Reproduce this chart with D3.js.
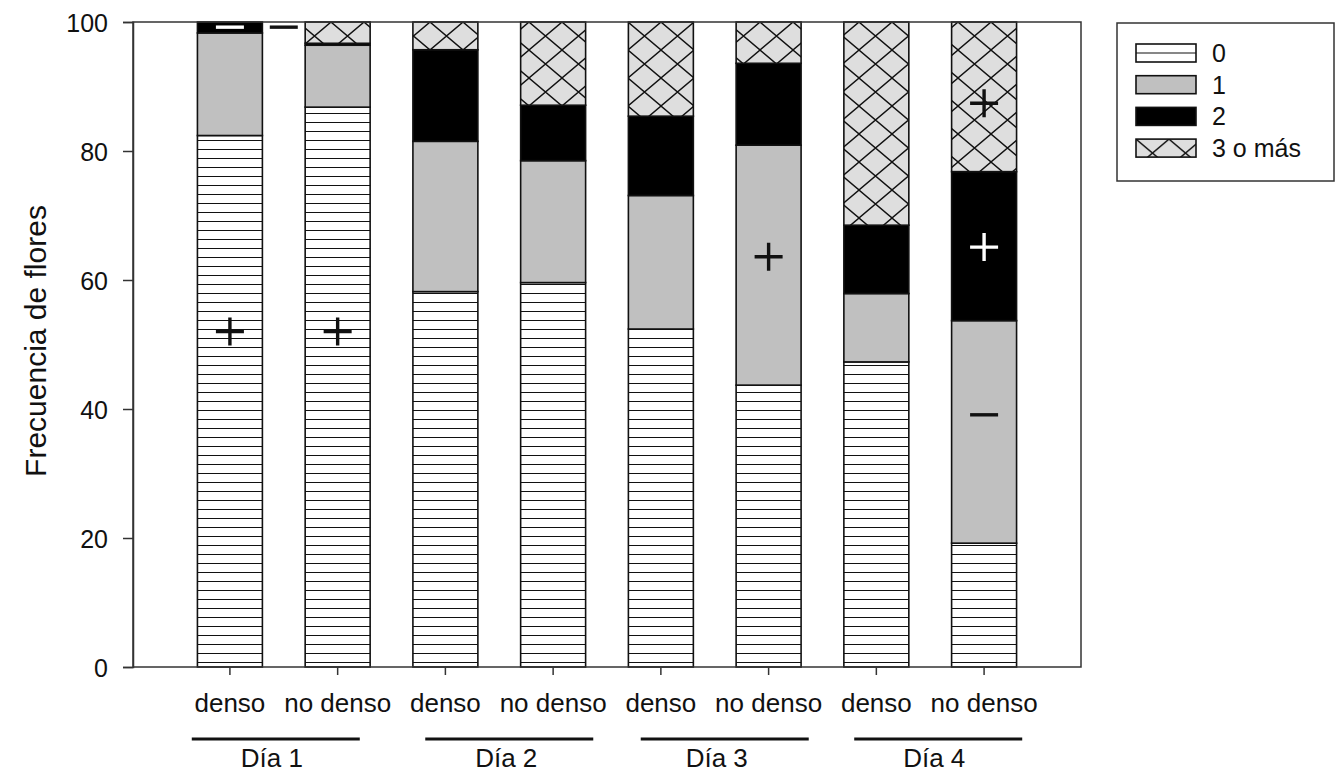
<!DOCTYPE html>
<html>
<head>
<meta charset="utf-8">
<script src="https://cdn.jsdelivr.net/npm/d3@7"></script>
<style>
  body { margin: 0; background: #fff; }
  text { font-family: "Liberation Sans", Arial, sans-serif; fill: #111; }
</style>
</head>
<body>
<svg width="1343" height="772"></svg>
<script>
// categories and data (percent of flowers per number of visits)
var days = ["Día 1", "Día 2", "Día 3", "Día 4"];
var treatments = ["denso", "no denso"];
var keys = ["0", "1", "2", "3 o más"];
var cero  = [82.4, 86.8, 58.2, 59.6, 52.4, 43.7, 47.3, 19.2];
var uno   = [15.9,  9.6, 23.3, 18.9, 20.7, 37.2, 10.6, 34.5];
var dos   = [ 1.7,  0.3, 14.2,  8.6, 12.3, 12.7, 10.6, 23.1];
var tres  = [ 0.0,  3.3,  4.3, 12.9, 14.6,  6.4, 31.5, 23.2];
var yTicks = [0, 20, 40, 60, 80, 100];

// significance marks: bar index, value, sign, colour
var marks = [
  {bar: 0, value: 52.0, sign: "+", color: "#111"},
  {bar: 0, value: 99.2, sign: "-", color: "#fff"},
  {bar: 0.5, value: 99.2, sign: "-", color: "#111"},
  {bar: 1, value: 52.0, sign: "+", color: "#111"},
  {bar: 5, value: 63.6, sign: "+", color: "#111"},
  {bar: 7, value: 87.4, sign: "+", color: "#111"},
  {bar: 7, value: 65.1, sign: "+", color: "#fff"},
  {bar: 7, value: 39.1, sign: "-", color: "#111"}
];

var cats = [];
days.forEach(function(d) { treatments.forEach(function(t) { cats.push(d + "|" + t); }); });
var rows = cats.map(function(c, i) {
  return {cat: c, "0": cero[i], "1": uno[i], "2": dos[i], "3 o más": tres[i]};
});

var svg = d3.select("svg"),
    margin = {top: 22, right: 262, bottom: 105, left: 133},
    width = +svg.attr("width") - margin.left - margin.right,
    height = +svg.attr("height") - margin.top - margin.bottom,
    g = svg.append("g").attr("transform", "translate(" + margin.left + "," + margin.top + ")");

// patterns
var defs = svg.append("defs");
var stripes = defs.append("pattern").attr("id", "stripes")
    .attr("patternUnits", "userSpaceOnUse")
    .attr("width", 10).attr("height", 9)
    .attr("y", (margin.top + height) % 9);
stripes.append("rect").attr("width", 10).attr("height", 9).attr("fill", "#fff");
stripes.append("line").attr("x1", 0).attr("x2", 10).attr("y1", 0.5).attr("y2", 0.5)
    .attr("stroke", "#111").attr("stroke-width", 1);

var hatch = defs.append("pattern").attr("id", "hatch")
    .attr("patternUnits", "userSpaceOnUse")
    .attr("width", 33).attr("height", 28);
hatch.append("rect").attr("width", 33).attr("height", 28).attr("fill", "#dedede");
hatch.append("path").attr("d", "M0,0L33,28M33,0L0,28M-1,-1L1,1M32,27L34,29")
    .attr("stroke", "#111").attr("stroke-width", 1.4).attr("fill", "none");

var fills = {"0": "url(#stripes)", "1": "#c0c0c0", "2": "#000", "3 o más": "url(#hatch)"};

var x = d3.scaleBand().domain(cats).range([0, width]).paddingInner(0.397).paddingOuter(0.598);
var y = d3.scaleLinear().domain([0, 100]).range([height, 0]);

var series = d3.stack().keys(keys)(rows);

g.selectAll(".serie")
  .data(series)
  .enter().append("g")
    .attr("class", "serie")
    .attr("fill", function(d) { return fills[d.key]; })
  .selectAll("rect")
  .data(function(d) { return d; })
  .enter().append("rect")
    .filter(function(d) { return d[1] - d[0] > 0; })
    .attr("x", function(d) { return x(d.data.cat); })
    .attr("y", function(d) { return y(d[1]); })
    .attr("width", x.bandwidth())
    .attr("height", function(d) { return y(d[0]) - y(d[1]); })
    .attr("stroke", "#111")
    .attr("stroke-width", 1.6);

// frame
g.append("rect").attr("width", width).attr("height", height)
    .attr("fill", "none").attr("stroke", "#333").attr("stroke-width", 1.5);

// y axis
var yAxis = g.append("g")
    .call(d3.axisLeft(y).tickValues(yTicks).tickSize(10).tickPadding(15));
yAxis.selectAll("text").style("font-size", "25px").attr("dy", "0.36em");
yAxis.selectAll("line, path").attr("stroke", "#333").attr("stroke-width", 1.5);

// x axis
var xAxis = g.append("g")
    .attr("transform", "translate(0," + height + ")")
    .call(d3.axisBottom(x).tickSize(8).tickPadding(19)
      .tickFormat(function(d) { return d.split("|")[1]; }));
xAxis.select(".domain").remove();
xAxis.selectAll("line").attr("stroke", "#333").attr("stroke-width", 1.5);
xAxis.selectAll("text").style("font-size", "26px");

// day groups (lines and labels were placed by hand in the original)
var lineShift = [-8, 10, 10, 8],
    labelShift = [-12, 7, 2, 4];
var dayG = g.selectAll(".day")
  .data(days)
  .enter().append("g").attr("class", "day");
function dayCenter(d) {
  return (x(d + "|denso") + x(d + "|no denso") + x.bandwidth()) / 2;
}
dayG.append("line")
    .attr("x1", function(d, i) { return dayCenter(d) + lineShift[i] - 84; })
    .attr("x2", function(d, i) { return dayCenter(d) + lineShift[i] + 84; })
    .attr("y1", height + 72).attr("y2", height + 72)
    .attr("stroke", "#111").attr("stroke-width", 3);
dayG.append("text")
    .attr("x", function(d, i) { return dayCenter(d) + labelShift[i]; })
    .attr("y", height + 100)
    .attr("text-anchor", "middle")
    .style("font-size", "26px")
    .text(function(d) { return d; });

// y title
svg.append("text")
    .attr("transform", "translate(46," + (margin.top + 319) + ") rotate(-90)")
    .attr("text-anchor", "middle")
    .style("font-size", "30px")
    .text("Frecuencia de flores");

// marks
function barX(b) {
  var lo = Math.floor(b), hi = Math.ceil(b);
  var cx = function(i) { return x(cats[i]) + x.bandwidth() / 2; };
  return cx(lo) + (cx(hi) - cx(lo)) * (b - lo);
}
var mk = g.selectAll(".mark")
  .data(marks)
  .enter().append("g")
    .attr("class", "mark")
    .attr("transform", function(d) { return "translate(" + barX(d.bar) + "," + y(d.value) + ")"; });
mk.append("path")
    .attr("d", function(d) { return d.sign === "+" ? "M-14,0H14M0,-14V14" : "M-14,0H14"; })
    .attr("stroke", function(d) { return d.color; })
    .attr("stroke-width", 3.4);

// legend
var lg = svg.append("g").attr("transform", "translate(1117,23)");
lg.append("rect").attr("width", 217).attr("height", 158)
    .attr("fill", "#fff").attr("stroke", "#333").attr("stroke-width", 1.5);
var li = lg.selectAll(".li")
  .data(keys)
  .enter().append("g")
    .attr("transform", function(d, i) { return "translate(19," + (21 + i * 31.7) + ")"; });
li.append("rect").attr("width", 60).attr("height", 18)
    .attr("fill", function(d) { return d === "0" ? "#fff" : fills[d]; })
    .attr("stroke", "#111").attr("stroke-width", 1.6);
li.filter(function(d) { return d === "0"; }).append("line")
    .attr("x1", 0).attr("x2", 60).attr("y1", 9).attr("y2", 9)
    .attr("stroke", "#111").attr("stroke-width", 1.2);
li.append("text")
    .attr("x", 76).attr("y", 9).attr("dy", "0.36em")
    .style("font-size", "25px")
    .text(function(d) { return d; });
</script>
</body>
</html>
